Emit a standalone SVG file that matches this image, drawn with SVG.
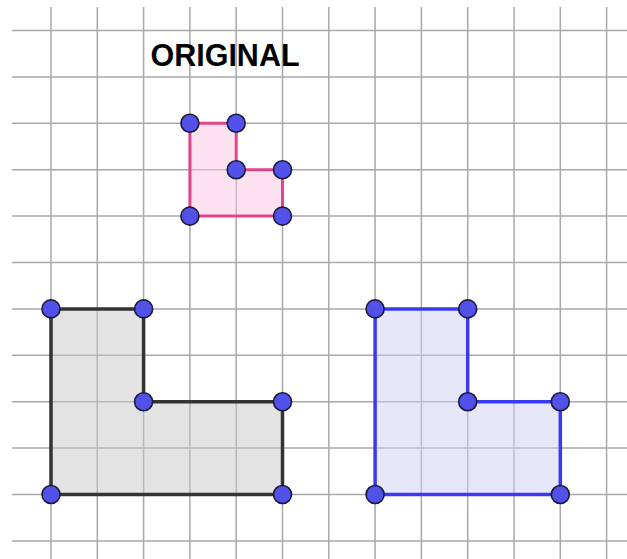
<svg xmlns="http://www.w3.org/2000/svg" width="627" height="559" viewBox="0 0 627 559">
<style>
.grid line{stroke:#a8a8a8;stroke-width:1.5}
.pt{fill:#5252ea;stroke:#1a1a3a;stroke-width:1.6}
.title{font-family:"Liberation Sans",Arial,sans-serif;font-weight:bold;font-size:30.5px;fill:#000}
</style>
<rect width="627" height="559" fill="#fff"/>
<g id="grid" class="grid">
<line x1="51" y1="7" x2="51" y2="559"/>
<line x1="97.3" y1="7" x2="97.3" y2="559"/>
<line x1="143.6" y1="7" x2="143.6" y2="559"/>
<line x1="189.9" y1="7" x2="189.9" y2="559"/>
<line x1="236.2" y1="7" x2="236.2" y2="559"/>
<line x1="282.5" y1="7" x2="282.5" y2="559"/>
<line x1="328.8" y1="7" x2="328.8" y2="559"/>
<line x1="375.1" y1="7" x2="375.1" y2="559"/>
<line x1="421.4" y1="7" x2="421.4" y2="559"/>
<line x1="467.7" y1="7" x2="467.7" y2="559"/>
<line x1="514" y1="7" x2="514" y2="559"/>
<line x1="560.3" y1="7" x2="560.3" y2="559"/>
<line x1="606.6" y1="7" x2="606.6" y2="559"/>
<line x1="12" y1="30.5" x2="627" y2="30.5"/>
<line x1="12" y1="76.9" x2="627" y2="76.9"/>
<line x1="12" y1="123.3" x2="627" y2="123.3"/>
<line x1="12" y1="169.7" x2="627" y2="169.7"/>
<line x1="12" y1="216.1" x2="627" y2="216.1"/>
<line x1="12" y1="262.5" x2="627" y2="262.5"/>
<line x1="12" y1="308.9" x2="627" y2="308.9"/>
<line x1="12" y1="355.3" x2="627" y2="355.3"/>
<line x1="12" y1="401.7" x2="627" y2="401.7"/>
<line x1="12" y1="448.1" x2="627" y2="448.1"/>
<line x1="12" y1="494.5" x2="627" y2="494.5"/>
<line x1="12" y1="540.9" x2="627" y2="540.9"/>
</g>
<text id="title" class="title" x="225" y="66" text-anchor="middle">ORIGINAL</text>
<g id="original">
<polygon points="189.9,123.3 236.2,123.3 236.2,169.7 282.5,169.7 282.5,216.1 189.9,216.1" fill="#f7c6de" fill-opacity="0.5" stroke="#e2448c" stroke-width="3"/>
<circle class="pt" cx="189.9" cy="123.3" r="9"/>
<circle class="pt" cx="236.2" cy="123.3" r="9"/>
<circle class="pt" cx="236.2" cy="169.7" r="9"/>
<circle class="pt" cx="282.5" cy="169.7" r="9"/>
<circle class="pt" cx="282.5" cy="216.1" r="9"/>
<circle class="pt" cx="189.9" cy="216.1" r="9"/>
</g>
<g id="gray-shape">
<polygon points="51,308.9 143.6,308.9 143.6,401.7 282.5,401.7 282.5,494.5 51,494.5" fill="#c8c8c8" fill-opacity="0.5" stroke="#333" stroke-width="3.5"/>
<circle class="pt" cx="51" cy="308.9" r="9"/>
<circle class="pt" cx="143.6" cy="308.9" r="9"/>
<circle class="pt" cx="143.6" cy="401.7" r="9"/>
<circle class="pt" cx="282.5" cy="401.7" r="9"/>
<circle class="pt" cx="282.5" cy="494.5" r="9"/>
<circle class="pt" cx="51" cy="494.5" r="9"/>
</g>
<g id="blue-shape">
<polygon points="375.1,308.9 467.7,308.9 467.7,401.7 560.3,401.7 560.3,494.5 375.1,494.5" fill="#cfd0f5" fill-opacity="0.5" stroke="#3a3af0" stroke-width="3.5"/>
<circle class="pt" cx="375.1" cy="308.9" r="9"/>
<circle class="pt" cx="467.7" cy="308.9" r="9"/>
<circle class="pt" cx="467.7" cy="401.7" r="9"/>
<circle class="pt" cx="560.3" cy="401.7" r="9"/>
<circle class="pt" cx="560.3" cy="494.5" r="9"/>
<circle class="pt" cx="375.1" cy="494.5" r="9"/>
</g>
</svg>
